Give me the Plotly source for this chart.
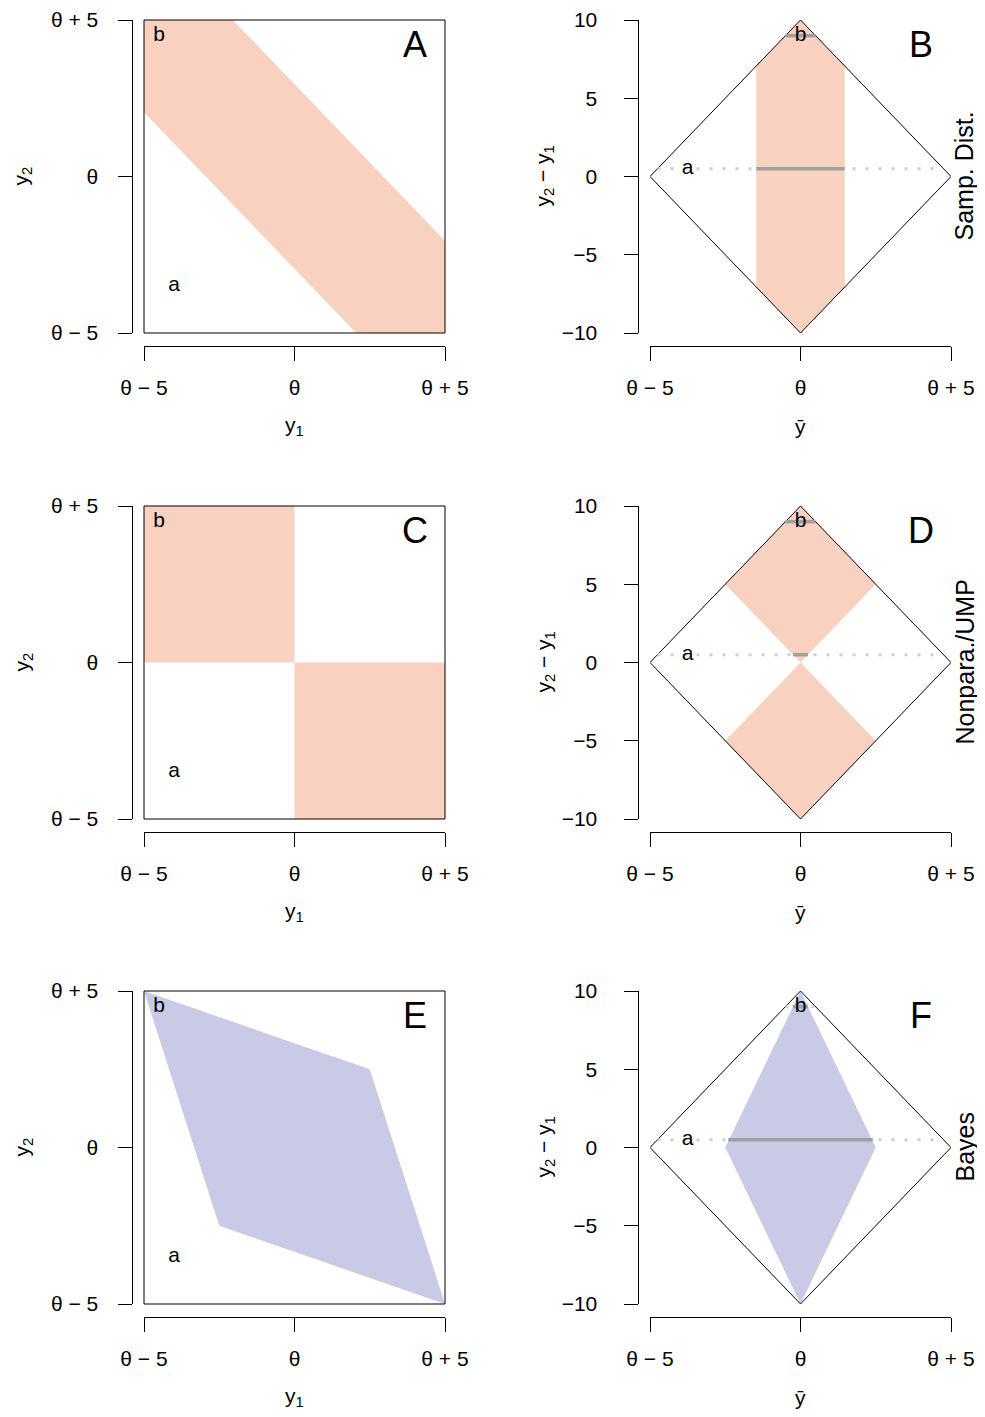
import plotly.graph_objects as go

# tick labels
theta_vals = [-5, 0, 5]
theta_text = ["θ − 5", "θ", "θ + 5"]
diff_vals = [-10, -5, 0, 5, 10]
diff_text = ["−10", "−5", "0", "5", "10"]

# the two example samples (y1, y2)
pt_names = ["a", "b"]
pt_y1 = [-4.0, -4.5]
pt_y2 = [-3.5, 4.5]

# sample space square and its image in (ybar, y2 - y1)
diamond_ybar = [-5, 0, 5, 0, -5]
diamond_diff = [0, 10, 0, -10, 0]

# A/B sampling distribution region
sd_y1 = [-5, -5, -2.05, 5, 5, 2.05]
sd_y2 = [2.05, 5, 5, -2.05, -5, -5]
sd_ybar = [-1.47, -1.47, 0, 1.47, 1.47, 0]
sd_diff = [-7.06, 7.06, 10, 7.06, -7.06, -10]

# C/D nonparametric / UMP region
np_y1 = [-5, 0, 0, -5, None, 0, 5, 5, 0]
np_y2 = [0, 0, 5, 5, None, -5, -5, 0, 0]
np_ybar = [0, -2.5, 0, 2.5, None, 0, -2.5, 0, 2.5]
np_diff = [0, 5, 10, 5, None, 0, -5, -10, -5]

# E/F Bayes region
by_y1 = [-5, 2.5, 5, -2.5]
by_y2 = [5, 2.5, -5, -2.5]
by_ybar = [0, 2.5, 0, -2.5]
by_diff = [10, 0, -10, 0]

# lines at y2 - y1 of a and b: whole extent (dotted) and part inside region (solid)
line_full = [[-4.75, 4.75], [-0.5, 0.5]]
line_sd = [[-1.47, 1.47], [-0.5, 0.5]]
line_np = [[-0.25, 0.25], [-0.5, 0.5]]
line_by = [[-2.4, 2.4], [-0.25, 0.25]]

salmon = "#F9D1C0"
lavender = "#C9CBE6"

rows = [
    dict(left=(sd_y1, sd_y2), right=(sd_ybar, sd_diff), seg=line_sd, color=salmon,
         letters=("A", "B"), side="Samp. Dist."),
    dict(left=(np_y1, np_y2), right=(np_ybar, np_diff), seg=line_np, color=salmon,
         letters=("C", "D"), side="Nonpara./UMP"),
    dict(left=(by_y1, by_y2), right=(by_ybar, by_diff), seg=line_by, color=lavender,
         letters=("E", "F"), side="Bayes"),
]

# page has an 8px body margin, so the figure starts at (8, 8)
OFF = 8
W, H = 985 - OFF, 1417 - OFF
def px(x):
    return (x - OFF) / W
def py(y):
    return 1 - (y - OFF) / H

row_top = [20, 506, 991]
ph = 313
left_x = (144, 445)
right_x = (650, 951)
font = "Liberation Sans, Arial, sans-serif"
fs = 21

fig = go.Figure()
layout = {}
annots = []
shapes = []

def note(text, x, y, size, xref="paper", yref="paper", angle=0):
    annots.append(dict(text=text, xref=xref, yref=yref, x=x, y=y, showarrow=False,
                       xanchor="center", yanchor="middle", textangle=angle,
                       font=dict(size=size, color="black")))

for i, r in enumerate(rows):
    top = row_top[i]
    bot = top + ph
    for j, (x0, x1) in enumerate([left_x, right_x]):
        n = 2 * i + j + 1
        sfx = "" if n == 1 else str(n)
        xa, ya = "x" + sfx, "y" + sfx
        right = j == 1
        layout["xaxis" + sfx] = dict(
            domain=[px(x0), px(x1)], range=[-5, 5], anchor="free", position=py(bot + 13),
            automargin=False,
            showline=True, linecolor="black", linewidth=1, ticks="outside", ticklen=14,
            tickcolor="black", tickwidth=1, tickvals=theta_vals, ticktext=theta_text,
            showgrid=False, zeroline=False, ticklabelstandoff=9,
            tickfont=dict(size=fs, color="black"))
        layout["yaxis" + sfx] = dict(
            domain=[py(bot), py(top)], range=[-10, 10] if right else [-5, 5],
            anchor="free", position=px(x0 - 12.5), automargin=False,
            showline=True, linecolor="black", linewidth=1, ticks="outside", ticklen=14,
            tickcolor="black", tickwidth=1,
            tickvals=diff_vals if right else theta_vals,
            ticktext=diff_text if right else theta_text,
            showgrid=False, zeroline=False, ticklabelstandoff=22 if right else 15,
            tickfont=dict(size=fs, color="black"))

        if not right:
            fx, fy = r["left"]
            fig.add_trace(go.Scatter(x=fx, y=fy, xaxis=xa, yaxis=ya, mode="lines",
                                     fill="toself", fillcolor=r["color"], line=dict(width=0),
                                     hoverinfo="skip"))
            fig.add_trace(go.Scatter(x=pt_y1, y=pt_y2, xaxis=xa, yaxis=ya, mode="text",
                                     text=pt_names, textfont=dict(size=fs, color="black"),
                                     hoverinfo="skip"))
            shapes.append(dict(type="rect", xref=f"{xa} domain", yref=f"{ya} domain",
                               x0=0, x1=1, y0=0, y1=1, line=dict(color="black", width=1)))
        else:
            fx, fy = r["right"]
            fig.add_trace(go.Scatter(x=fx, y=fy, xaxis=xa, yaxis=ya, mode="lines",
                                     fill="toself", fillcolor=r["color"], line=dict(width=0),
                                     hoverinfo="skip"))
            fig.add_trace(go.Scatter(x=diamond_ybar, y=diamond_diff, xaxis=xa, yaxis=ya,
                                     mode="lines", line=dict(color="black", width=1),
                                     hoverinfo="skip"))
            for k in range(2):
                d = pt_y2[k] - pt_y1[k]
                fig.add_trace(go.Scatter(x=line_full[k], y=[d, d], xaxis=xa, yaxis=ya,
                                         mode="lines",
                                         line=dict(color="#CFCFCF", width=3, dash="3px,10px"),
                                         hoverinfo="skip"))
                fig.add_trace(go.Scatter(x=r["seg"][k], y=[d, d], xaxis=xa, yaxis=ya,
                                         mode="lines", line=dict(color="#A0A0A0", width=3.5),
                                         hoverinfo="skip"))
            ybar = [(a + b) / 2 for a, b in zip(pt_y1, pt_y2)]
            diff = [b - a for a, b in zip(pt_y1, pt_y2)]
            fig.add_trace(go.Scatter(x=ybar, y=diff, xaxis=xa, yaxis=ya, mode="text",
                                     text=pt_names, textfont=dict(size=fs, color="black"),
                                     hoverinfo="skip"))

        # panel letter
        note(r["letters"][j], 0.9, 0.923, 36, xref=f"{xa} domain", yref=f"{ya} domain")
        # axis titles
        note("ȳ" if right else "y<sub>1</sub>", px((x0 + x1) / 2), py(bot + 93), fs)
        if right:
            note("y<sub>2</sub> − y<sub>1</sub>", px(x0 - 106), py(top + ph / 2), fs, angle=-90)
        else:
            note("y<sub>2</sub>", px(x0 - 122), py(top + ph / 2), fs, angle=-90)

    note(r["side"], px(964), py(top + ph / 2), 25, angle=-90)

fig.update_layout(**layout)
fig.update_layout(
    width=W, height=H, margin=dict(l=0, r=0, t=0, b=0),
    paper_bgcolor="white", plot_bgcolor="white", showlegend=False,
    font=dict(family=font, color="black"),
    annotations=annots, shapes=shapes,
)

fig.write_html("out.html")
